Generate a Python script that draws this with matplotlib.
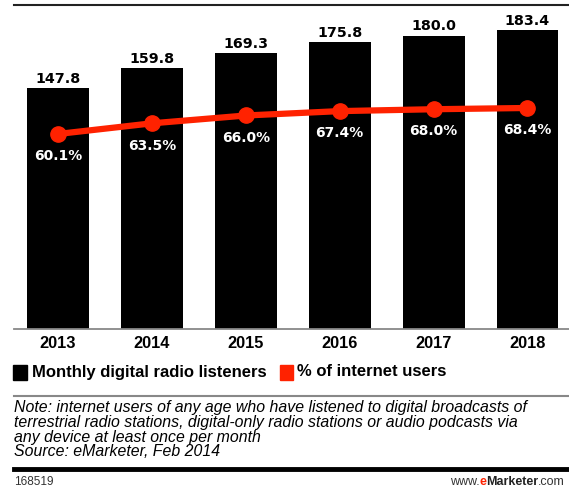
import matplotlib.pyplot as plt
from matplotlib.lines import Line2D
from matplotlib.patches import Rectangle

# Monthly digital radio listeners (millions) and share of internet users
years = ['2013', '2014', '2015', '2016', '2017', '2018']
listeners = [147.8, 159.8, 169.3, 175.8, 180.0, 183.4]
pct_users = [60.1, 63.5, 66.0, 67.4, 68.0, 68.4]

RED = '#ff2200'
W, H = 569, 491

fig = plt.figure(figsize=(W / 100, H / 100), dpi=100)
plt.rcParams['font.family'] = ['DejaVu Sans']


def fx(px):
    return px / W


def fy(py):
    return 1 - py / H


# plot area: x 14..569 px, y 15..329 px
ax = fig.add_axes([fx(14), fy(329), fx(555), (329 - 15) / H])
x = list(range(len(years)))
ax.bar(x, listeners, width=0.66, color='black', zorder=2)
ax.set_xlim(-0.469, 5.442)
ax.set_ylim(0, 192.6)
for xi, v in zip(x, listeners):
    ax.annotate(f'{v:.1f}', (xi, v), xytext=(0, 1.5), textcoords='offset points',
                ha='center', va='bottom', fontsize=10.3, fontweight='bold')

ax2 = ax.twinx()
ax2.plot(x, pct_users, color=RED, lw=4.5, marker='o', markersize=11,
         solid_capstyle='round', zorder=3)
ax2.set_ylim(-2.2, 98.1)
for xi, p in zip(x, pct_users):
    ax2.annotate(f'{p:.1f}%', (xi, p), xytext=(0, -16), textcoords='offset points',
                 ha='center', va='center', fontsize=10, fontweight='bold', color='white')

for a in (ax, ax2):
    for s in a.spines.values():
        s.set_visible(False)
    a.set_yticks([])
ax.set_xticks(x)
ax.set_xticklabels(years, fontsize=11.8, fontweight='bold', family='Liberation Sans')
ax.tick_params(axis='x', length=0, pad=5)

# rules across the figure
fig.add_artist(Line2D([fx(14), 1], [fy(5), fy(5)], color='#222222', lw=1.5))
fig.add_artist(Line2D([fx(14), 1], [fy(329), fy(329)], color='#888888', lw=1.3))
fig.add_artist(Line2D([fx(14), 1], [fy(396), fy(396)], color='#888888', lw=1.5))
fig.add_artist(Line2D([fx(14), 1], [fy(469), fy(469)], color='black', lw=3.5))

# legend
fig.add_artist(Rectangle((fx(13), fy(380)), fx(14), 15 / H, color='black'))
fig.text(fx(32), fy(372), 'Monthly digital radio listeners', fontsize=12,
         fontweight='bold', family='Liberation Sans', va='center')
fig.add_artist(Rectangle((fx(280), fy(380)), fx(13), 15 / H, color=RED))
fig.text(fx(297), fy(372), '% of internet users', fontsize=12,
         fontweight='bold', family='Liberation Sans', va='center')

note = ('Note: internet users of any age who have listened to digital broadcasts of\n'
        'terrestrial radio stations, digital-only radio stations or audio podcasts via\n'
        'any device at least once per month\n'
        'Source: eMarketer, Feb 2014')
fig.text(fx(14), fy(400), note, fontsize=11.4, style='italic', family='Liberation Sans',
         va='top', linespacing=0.98)

fig.text(fx(14), fy(482), '168519', fontsize=8.5, family='Liberation Sans',
         va='center', color='#333333')

# footer logo text, built right to left
fig.canvas.draw()
r = fig.canvas.get_renderer()
xr = 565
for txt, kw in [('.com', dict(color='#333333')),
                ('Marketer', dict(color='#222222', fontweight='bold')),
                ('e', dict(color=RED, fontweight='bold')),
                ('www.', dict(color='#333333'))]:
    t = fig.text(fx(xr), fy(482), txt, fontsize=9, family='Liberation Sans',
                 va='center', ha='right', **kw)
    xr -= t.get_window_extent(r).width

fig.savefig('out.png', dpi=100)
